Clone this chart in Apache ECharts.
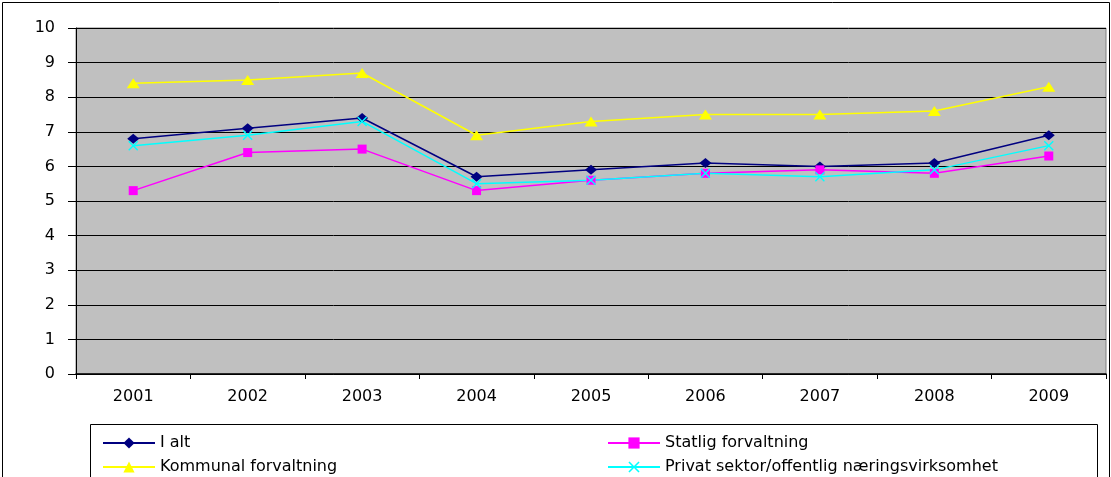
<!DOCTYPE html>
<html>
<head>
<meta charset="utf-8">
<script src="https://cdn.jsdelivr.net/npm/echarts@6/dist/echarts.min.js"></script>
<style>
  html, body { margin: 0; padding: 0; background: #fff; }
  #chart { width: 1111px; height: 477px; }
</style>
</head>
<body>
<div id="chart"></div>
<script>
// Years on the category axis
const years = ['2001', '2002', '2003', '2004', '2005', '2006', '2007', '2008', '2009'];

// Series values per year
const iAlt = [6.8, 7.1, 7.4, 5.7, 5.9, 6.1, 6.0, 6.1, 6.9];
const statlig = [5.3, 6.4, 6.5, 5.3, 5.6, 5.8, 5.9, 5.8, 6.3];
const kommunal = [8.4, 8.5, 8.7, 6.9, 7.3, 7.5, 7.5, 7.6, 8.3];
const privat = [6.6, 6.9, 7.3, 5.5, 5.6, 5.8, 5.7, 5.9, 6.6];

// Series names
const names = ['I alt', 'Statlig forvaltning', 'Kommunal forvaltning', 'Privat sektor/offentlig næringsvirksomhet'];

const FONT = 'DejaVu Sans';
const crossPath = 'path://M0,1L1,0L5,4L9,0L10,1L6,5L10,9L9,10L5,6L1,10L0,9L4,5Z';

function lineSeries(name, data, color, symbol, size) {
  return {
    name: name,
    type: 'line',
    data: data,
    symbol: symbol,
    symbolSize: size,
    showSymbol: true,
    lineStyle: { color: color, width: 1.5 },
    itemStyle: { color: color },
    emphasis: { disabled: true },
    z: 3
  };
}

// One legend entry per component, placed in a two-by-two layout
function legendEntry(name, left, top) {
  return {
    left: left, top: top,
    itemWidth: 52, itemHeight: 14,
    data: [name],
    textStyle: { fontFamily: FONT, fontSize: 16, color: '#000' }
  };
}

const chart = echarts.init(document.getElementById('chart'), null, { renderer: 'canvas' });

chart.setOption({
  animation: false,
  backgroundColor: '#fff',
  textStyle: { fontFamily: FONT },
  grid: {
    left: 76, top: 28, width: 1030, height: 346,
    show: true, backgroundColor: '#C0C0C0', borderColor: '#808080', borderWidth: 1
  },
  xAxis: {
    type: 'category',
    data: years,
    boundaryGap: true,
    axisLine: { lineStyle: { color: '#000', width: 1.5 } },
    axisTick: { show: true, length: 5, lineStyle: { color: '#000' } },
    axisLabel: { color: '#000', fontFamily: FONT, fontSize: 16, margin: 15 },
    splitLine: { show: false }
  },
  yAxis: {
    type: 'value',
    min: 0, max: 10, interval: 1,
    axisLine: { show: true, lineStyle: { color: '#000' } },
    axisTick: { show: true, length: 8, lineStyle: { color: '#000' } },
    axisLabel: { color: '#000', fontFamily: FONT, fontSize: 16, margin: 21 },
    splitLine: { show: true, lineStyle: { color: '#000', width: 1 } }
  },
  legend: [
    legendEntry(names[0], 97, 430),
    legendEntry(names[2], 97, 454),
    legendEntry(names[1], 602, 430),
    legendEntry(names[3], 602, 454)
  ],
  graphic: [
    {
      type: 'rect', silent: true, z: -1,
      shape: { x: 2.5, y: 2.5, width: 1107, height: 490 },
      style: { fill: 'none', stroke: '#000', lineWidth: 1 }
    },
    {
      type: 'rect', silent: true, z: -1,
      shape: { x: 90.5, y: 424.5, width: 1007, height: 70 },
      style: { fill: 'none', stroke: '#000', lineWidth: 1 }
    }
  ],
  series: [
    lineSeries(names[0], iAlt, '#000080', 'diamond', [12, 10]),
    lineSeries(names[1], statlig, '#FF00FF', 'rect', 9),
    lineSeries(names[2], kommunal, '#FFFF00', 'triangle', [13, 10]),
    lineSeries(names[3], privat, '#00FFFF', crossPath, 10)
  ]
});
</script>
</body>
</html>
